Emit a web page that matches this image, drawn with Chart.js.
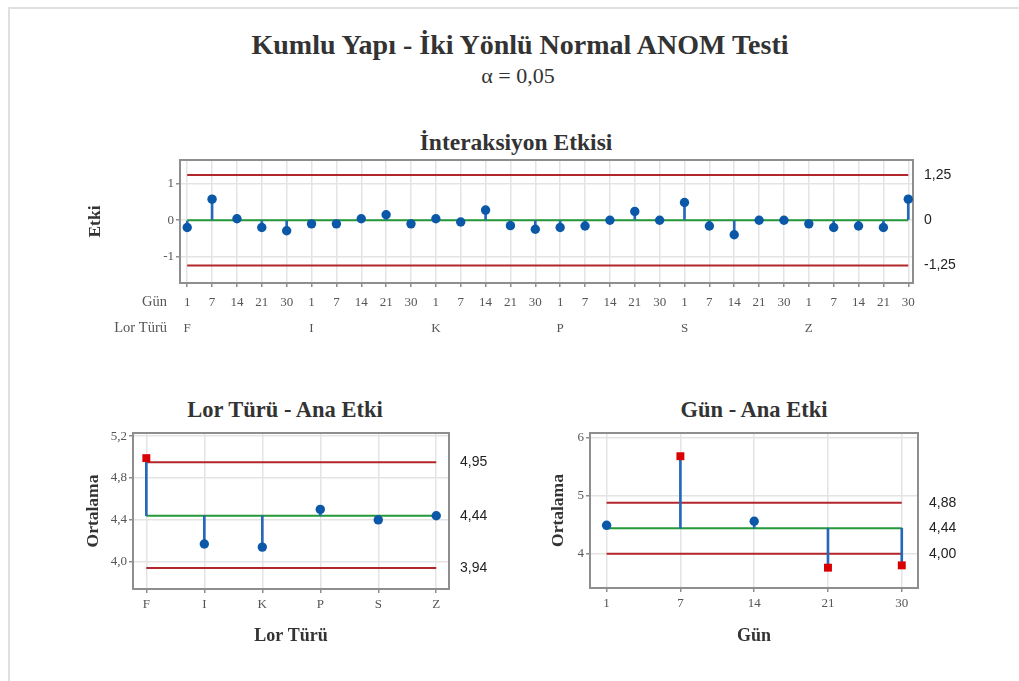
<!DOCTYPE html>
<html>
<head>
<meta charset="utf-8">
<script src="https://cdn.jsdelivr.net/npm/chart.js@4.4.0/dist/chart.umd.min.js"></script>
<style>
  body { margin: 0; background: #fff; width: 1019px; height: 681px; overflow: hidden; position: relative; font-family: "Liberation Serif", serif; }
  #cerceve { position: absolute; left: 8px; top: 7px; width: 1100px; height: 800px; border-left: 2px solid #e0e0e0; border-top: 2px solid #e0e0e0; }
  .baslik { position: absolute; width: 600px; text-align: center; color: #333; white-space: nowrap; }
  canvas { position: absolute; }
</style>
</head>
<body>
<div id="cerceve"></div>
<div class="baslik" style="left:220px; top:30px; font-size:28px; line-height:30px; font-weight:bold;">Kumlu Yapı - İki Yönlü Normal ANOM Testi</div>
<div class="baslik" style="left:218px; top:64px; font-size:22px; line-height:24px;">α = 0,05</div>
<div class="baslik" style="left:216px; top:130px; font-size:23.5px; line-height:24px; font-weight:bold;">İnteraksiyon Etkisi</div>
<div class="baslik" style="left:-15px; top:398px; font-size:22.5px; line-height:24px; font-weight:bold;">Lor Türü - Ana Etki</div>
<div class="baslik" style="left:454px; top:398px; font-size:22.5px; line-height:24px; font-weight:bold;">Gün - Ana Etki</div>

<canvas id="grafikUst" width="1019" height="200" style="left:0; top:150px;"></canvas>
<canvas id="grafikLor" width="520" height="256" style="left:0; top:425px;"></canvas>
<canvas id="grafikGun" width="499" height="256" style="left:520px; top:425px;"></canvas>

<script>
// kategoriler
const gunler = ['1', '7', '14', '21', '30'];
const lorTurleri = ['F', 'I', 'K', 'P', 'S', 'Z'];

// interaksiyon etkileri (her lor türü için günlere göre)
const etkiF = [-0.20, 0.58, 0.04, -0.20, -0.29];
const etkiI = [-0.10, -0.10, 0.04, 0.15, -0.10];
const etkiK = [0.04, -0.05, 0.28, -0.15, -0.25];
const etkiP = [-0.20, -0.16, 0.00, 0.24, 0.00];
const etkiS = [0.49, -0.16, -0.40, 0.00, 0.00];
const etkiZ = [-0.10, -0.20, -0.16, -0.20, 0.58];
const etkiLimitleri = [-1.25, 0, 1.25];
const etkiTicks = [-1, 0, 1];

// ana etkiler
const lorOrtalama = [4.99, 4.17, 4.14, 4.50, 4.40, 4.44];
const lorLimitleri = [3.94, 4.44, 4.95];
const lorTicks = [4.0, 4.4, 4.8, 5.2];

const gunOrtalama = [4.49, 5.68, 4.56, 3.76, 3.80];
const gunLimitleri = [4.00, 4.44, 4.88];
const gunTicks = [4, 5, 6];

Chart.defaults.font.family = '"Liberation Serif", serif';

const kutuCiz = {
    id: 'kutuCiz',
    beforeDatasetsDraw(chart) {
        const { ctx, chartArea: a } = chart;
        ctx.save();
        ctx.strokeStyle = '#8e8e8e';
        ctx.lineWidth = 2;
        ctx.strokeRect(a.left, a.top, a.right - a.left, a.bottom - a.top);
        ctx.restore();
    }
};

const satirEtiketleri = {
    id: 'satirEtiketleri',
    afterDraw(chart, args, opts) {
        if (!opts.satirlar) return;
        const { ctx, chartArea: a } = chart;
        ctx.save();
        ctx.font = '14.5px "Liberation Serif"';
        ctx.fillStyle = '#555';
        ctx.textAlign = 'right';
        ctx.textBaseline = 'middle';
        opts.satirlar.forEach((s, i) => ctx.fillText(s, a.left - 13, a.bottom + 19 + i * 26));
        ctx.restore();
    }
};

// etiket taşmaları için Chart.js'in eklediği boşlukları sıfırla
function boslukSifirla(s) {
    s.paddingTop = 0;
    s.paddingBottom = 0;
    s.paddingLeft = 0;
    s.paddingRight = 0;
}

function anomGrafigi(id, o) {
    const n = o.degerler.length;
    const [alt, merkez, ust] = o.limitler;
    const disarida = o.degerler.map(v => v > ust || v < alt);

    const yatayCizgi = (y, renk, sira) => ({
        type: 'line',
        data: [{ x: 0, y: y }, { x: n - 1, y: y }],
        borderColor: renk,
        borderWidth: 2,
        pointRadius: 0,
        order: sira,
        clip: false
    });

    return new Chart(document.getElementById(id), {
        type: 'scatter',
        data: {
            datasets: [
                {
                    data: o.degerler.map((v, i) => ({ x: i, y: v })),
                    pointStyle: disarida.map(d => d ? 'rect' : 'circle'),
                    pointRadius: disarida.map(d => d ? 5.6 : o.yaricap),
                    pointHoverRadius: disarida.map(d => d ? 5.6 : o.yaricap),
                    backgroundColor: disarida.map(d => d ? '#d80000' : '#0c58a8'),
                    borderWidth: 0,
                    order: 0,
                    clip: false
                },
                {
                    type: 'bar',
                    data: o.degerler.map((v, i) => ({ x: i, y: [merkez, v] })),
                    backgroundColor: '#2568b8',
                    barThickness: 2,
                    borderWidth: 0,
                    order: 1,
                    clip: false
                },
                yatayCizgi(merkez, '#23993a', 2),
                yatayCizgi(ust, '#b3262b', 3),
                yatayCizgi(alt, '#b3262b', 3)
            ]
        },
        options: {
            responsive: false,
            animation: false,
            layout: { padding: { top: o.ustBosluk, left: 0, right: 0, bottom: 0 } },
            plugins: {
                legend: { display: false },
                tooltip: { enabled: false },
                satirEtiketleri: { satirlar: o.satirlar }
            },
            scales: {
                x: {
                    type: 'linear',
                    min: o.xMin,
                    max: o.xMax,
                    offset: false,
                    afterBuildTicks: s => { s.ticks = o.xEtiketleri.map((t, i) => ({ value: i })); },
                    afterFit: s => { s.height = o.xYukseklik; boslukSifirla(s); },
                    grid: { color: '#e4e4e4', lineWidth: 1.5, tickColor: '#8e8e8e', tickLength: 4, offset: false },
                    border: { display: false },
                    ticks: {
                        callback: v => o.xEtiketleri[v],
                        autoSkip: false,
                        maxRotation: 0,
                        color: '#555',
                        padding: o.xTickBosluk,
                        font: { size: 13, lineHeight: o.xSatirYuksekligi }
                    },
                    title: {
                        display: !!o.xBaslik,
                        text: o.xBaslik,
                        color: '#333',
                        font: { size: 18, weight: 'bold' },
                        padding: { top: 0, bottom: 34 }
                    }
                },
                y: {
                    min: o.yMin,
                    max: o.yMax,
                    afterBuildTicks: s => { s.ticks = o.yTicks.map(v => ({ value: v })); },
                    afterFit: s => { s.width = o.solGenislik; boslukSifirla(s); },
                    grid: { color: '#e4e4e4', lineWidth: 1.5, tickColor: '#8e8e8e', tickLength: 4 },
                    border: { display: false },
                    ticks: {
                        callback: o.yFormat,
                        autoSkip: false,
                        color: '#555',
                        padding: 2,
                        font: { size: 13 }
                    },
                    title: {
                        display: true,
                        text: o.yBaslik,
                        color: '#333',
                        font: { size: 17.5, weight: 'bold' },
                        padding: { top: o.yBaslikBosluk, bottom: 0 }
                    }
                },
                y2: {
                    position: 'right',
                    min: o.yMin,
                    max: o.yMax,
                    afterBuildTicks: s => { s.ticks = o.limitler.map(v => ({ value: v })); },
                    afterFit: s => { s.width = o.sagGenislik; boslukSifirla(s); },
                    grid: { display: false, drawTicks: false, tickLength: 0 },
                    border: { display: false },
                    ticks: {
                        callback: o.sagFormat,
                        autoSkip: false,
                        color: '#222',
                        padding: 11,
                        font: { family: '"Liberation Sans", sans-serif', size: 14 }
                    }
                }
            }
        },
        plugins: [kutuCiz, satirEtiketleri]
    });
}

const virgul = (v, d) => v.toFixed(d).replace('.', ',');

// interaksiyon grafiği
const ustEtiketler = [];
lorTurleri.forEach(lor => gunler.forEach((g, j) => ustEtiketler.push([g, j === 0 ? lor : ''])));

anomGrafigi('grafikUst', {
    degerler: [...etkiF, ...etkiI, ...etkiK, ...etkiP, ...etkiS, ...etkiZ],
    limitler: etkiLimitleri,
    xEtiketleri: ustEtiketler,
    xMin: -0.29, xMax: 29.19,
    yMin: -1.73, yMax: 1.66,
    yTicks: etkiTicks,
    yFormat: v => String(v),
    sagFormat: v => v === 0 ? '0' : virgul(v, 2),
    yBaslik: 'Etki',
    yBaslikBosluk: 85,
    ustBosluk: 10,
    xYukseklik: 67,
    xTickBosluk: 3,
    xSatirYuksekligi: 2,
    solGenislik: 180,
    sagGenislik: 106,
    yaricap: 4.7,
    satirlar: ['Gün', 'Lor Türü']
});

anomGrafigi('grafikLor', {
    degerler: lorOrtalama,
    limitler: lorLimitleri,
    xEtiketleri: lorTurleri,
    xMin: -0.23, xMax: 5.22,
    yMin: 3.74, yMax: 5.23,
    yTicks: lorTicks,
    yFormat: v => virgul(v, 1),
    sagFormat: v => virgul(v, 2),
    yBaslik: 'Ortalama',
    yBaslikBosluk: 83,
    xBaslik: 'Lor Türü',
    ustBosluk: 8,
    xYukseklik: 92,
    xTickBosluk: 4,
    xSatirYuksekligi: 1.2,
    solGenislik: 133,
    sagGenislik: 71,
    yaricap: 4.7
});

anomGrafigi('grafikGun', {
    degerler: gunOrtalama,
    limitler: gunLimitleri,
    xEtiketleri: gunler,
    xMin: -0.225, xMax: 4.22,
    yMin: 3.41, yMax: 6.08,
    yTicks: gunTicks,
    yFormat: v => String(v),
    sagFormat: v => virgul(v, 2),
    yBaslik: 'Ortalama',
    yBaslikBosluk: 28,
    xBaslik: 'Gün',
    ustBosluk: 8,
    xYukseklik: 93,
    xTickBosluk: 4,
    xSatirYuksekligi: 1.2,
    solGenislik: 70,
    sagGenislik: 101,
    yaricap: 4.7
});
</script>
</body>
</html>
